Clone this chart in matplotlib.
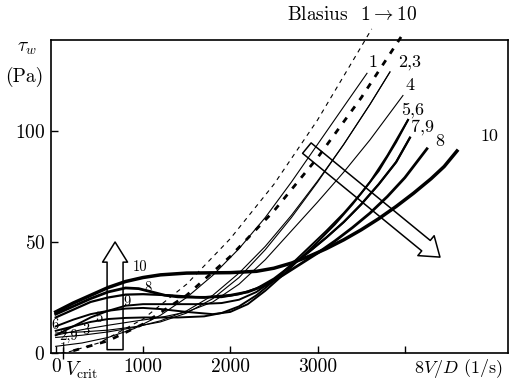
import matplotlib
matplotlib.use("Agg")
import matplotlib.pyplot as plt

plt.rcParams["font.family"] = "serif"
plt.rcParams["font.serif"] = ["cmr10", "DejaVu Serif"]
plt.rcParams["mathtext.fontset"] = "cm"
plt.rcParams["axes.formatter.use_mathtext"] = True

FONT_SIZE = 14

# Blasius reference lines (case 1 thin dashed, case 10 thick dashed)
blasius1_x = [150, 500, 1000, 1500, 2000, 2500, 3000, 3500, 3620]
blasius1_y = [0.5, 4.6, 15.3, 31, 51.5, 76, 105, 138, 146]
blasius10_x = [200, 600, 1000, 1500, 2000, 2500, 3000, 3500, 4000]
blasius10_y = [1, 5.5, 13, 26, 43.5, 64, 88, 115, 145]

# measured curves, one per test case
c1_x = [0, 300, 600, 900, 1200, 1500, 1800, 2100, 2400, 2700, 3000, 3300, 3566]
c1_y = [3, 4.5, 7, 11, 17, 25, 35, 47, 61, 77, 94, 111, 126]
c2_x = [0, 300, 600, 900, 1200, 1500, 1800, 2100, 2400, 2700, 3000, 3300, 3600, 3829]
c2_y = [7, 8, 9.5, 11.5, 14.5, 19, 26, 36, 48, 62, 77.5, 94, 112, 126.6]
c3_x = [0, 300, 600, 900, 1200, 1500, 1800, 2100, 2400, 2700, 3000, 3300, 3600, 3829]
c3_y = [9, 9.5, 10.3, 11.8, 14, 18, 24.5, 34, 46.5, 61, 77, 94, 112, 126.6]
c4_x = [0, 300, 600, 900, 1200, 1500, 1800, 2100, 2400, 2700, 3000, 3300, 3600, 3978]
c4_y = [8, 10.5, 12.5, 14.3, 16, 18.5, 23, 31, 42, 55, 68, 81.5, 96, 116]
c5_x = [0, 200, 400, 600, 800, 1000, 1400, 1700, 1900, 2100, 2300, 2500, 2700, 2900,
        3100, 3300, 3500, 3700, 3900, 4036]
c5_y = [10, 12, 14, 15.3, 15.8, 16, 16, 16.5, 18, 21, 26, 32.5, 40, 47.5,
        55, 63, 72, 82, 95, 105]
c6_x = [0, 200, 400, 600, 800, 1000, 1200, 1500, 1800, 2000, 2200, 2400, 2600, 2800,
        3000, 3200, 3400, 3600, 3800, 4036]
c6_y = [12, 15, 17.5, 19, 20, 20.3, 19.8, 18.5, 17.5, 18.5, 22, 28, 35, 42.5,
        50, 58, 67, 77, 89, 105]
c7_x = [0, 200, 400, 600, 800, 1000, 1300, 1600, 1900, 2100, 2300, 2500, 2700, 2900,
        3100, 3300, 3500, 3700, 3900, 4058]
c7_y = [16, 19.5, 23, 25, 26.3, 26.5, 26, 25.2, 25.2, 26.5, 29, 33.5, 39.5, 45.5,
        52, 59, 67, 76, 86, 97]
c8_x = [0, 200, 400, 600, 800, 950, 1100, 1250, 1400, 1700, 2000, 2200, 2400, 2600,
        2800, 3000, 3200, 3400, 3600, 3800, 4000, 4253]
c8_y = [17.5, 21, 24.5, 27.5, 29.3, 29, 27.5, 26, 25.3, 25, 26, 27.5, 30.5, 35,
        40, 45, 50.5, 56.5, 63, 70.5, 79, 92]
c9_x = [0, 200, 400, 600, 800, 1000, 1300, 1600, 1900, 2100, 2300, 2500, 2700, 2900,
        3100, 3300, 3500, 3700, 3900, 4058]
c9_y = [8, 12, 16, 19, 21.3, 22, 22, 22, 22.5, 24, 27.5, 33, 39.5, 45.5,
        52, 59, 67, 76, 86, 97]
c10_x = [0, 200, 400, 600, 800, 1000, 1200, 1500, 2000, 2300, 2500, 2700, 2900, 3100,
         3300, 3500, 3700, 3900, 4100, 4300, 4450, 4597]
c10_y = [18.5, 22.5, 26, 29.5, 32.2, 34, 35.2, 36, 36.2, 36.8, 38.2, 40.5, 43.5, 47,
         51, 55.5, 60.5, 66, 72, 78.5, 84, 91]

V_CRIT = 84
x_ticks = [0, 1000, 2000, 3000, 4000]
x_tick_labels = ["0", "1000", "2000", "3000", ""]
y_ticks = [0, 50, 100]

# curve labels: text, x, y
top_labels = [("1", 3635, 131), ("2,3", 4059, 131), ("4", 4059, 120.5),
              ("5,6", 4093, 109.5), ("7,9", 4207, 101.5), ("8", 4402, 95.5),
              ("10", 4975, 97.5)]
low_labels = [("10", 966, 38.7), ("8", 1057, 29.3), ("9", 817, 23),
              ("5", 496, 15.8), ("3", 347, 10.4), ("6", -8, 12.6),
              ("2,9", 150, 7.6), ("1", 85, 1.8)]

fig = plt.figure(figsize=(5.1, 3.81), dpi=100)
ax = fig.add_axes([0.1, 0.0735, 0.896, 0.8215])

ax.plot(blasius1_x, blasius1_y, color="k", lw=0.8, dashes=(4, 4), clip_on=False)
ax.plot(blasius10_x, blasius10_y, color="k", lw=2.0, dashes=(2.2, 2.8), clip_on=False)

for xs, ys in [(c1_x, c1_y), (c2_x, c2_y), (c3_x, c3_y), (c4_x, c4_y)]:
    ax.plot(xs, ys, color="k", lw=0.8)
for xs, ys in [(c5_x, c5_y), (c6_x, c6_y), (c9_x, c9_y)]:
    ax.plot(xs, ys, color="k", lw=1.4)
ax.plot(c7_x, c7_y, color="k", lw=1.6)
ax.plot(c8_x, c8_y, color="k", lw=2.0)
ax.plot(c10_x, c10_y, color="k", lw=2.5)

for txt, x, y in top_labels:
    ax.text(x, y, txt, fontsize=13, ha="center", va="center")
for txt, x, y in low_labels:
    ax.text(x, y, txt, fontsize=10.5, ha="center", va="center")

# hollow block arrows
ax.annotate("", xy=(680, 50), xytext=(680, 1.5),
            arrowprops=dict(arrowstyle="simple,tail_width=1.15,head_width=1.8,head_length=1.45",
                            fc="none", ec="k", lw=1.1, shrinkA=0, shrinkB=0, mutation_scale=10))
ax.annotate("", xy=(4402, 43.2), xytext=(2877, 92.3),
            arrowprops=dict(arrowstyle="simple,tail_width=0.97,head_width=1.85,head_length=1.3",
                            fc="none", ec="k", lw=1.1, shrinkA=0, shrinkB=0, mutation_scale=10))

ax.set_xlim(-54, 5181)
ax.set_ylim(0, 141)
ax.set_xticks(x_ticks)
ax.set_xticklabels(x_tick_labels)
ax.set_yticks(y_ticks)
ax.set_xticks([V_CRIT], minor=True)
ax.tick_params(axis="both", which="major", direction="in", length=5, width=1,
               labelsize=FONT_SIZE, pad=4)
ax.tick_params(axis="x", which="minor", direction="inout", length=8, width=1)
for sp in ax.spines.values():
    sp.set_linewidth(1.2)

xt = ax.get_xaxis_transform()
ax.text(V_CRIT + 20, -0.022, r"$V_{\mathrm{crit}}$", transform=xt, ha="left", va="top",
        fontsize=FONT_SIZE)
ax.text(0.99, -0.012, r"$8V/D$ (1/s)", transform=ax.transAxes, ha="right", va="top",
        fontsize=13)
ax.text(-0.052, 0.975, r"$\tau_w$", transform=ax.transAxes, ha="center", va="center",
        fontsize=FONT_SIZE)
ax.text(-0.059, 0.882, "(Pa)", transform=ax.transAxes, ha="center", va="center",
        fontsize=FONT_SIZE)
ax.text(0.659, 1.08, r"Blasius  $1 \rightarrow 10$", transform=ax.transAxes,
        ha="center", va="center", fontsize=FONT_SIZE)

fig.savefig("out.png", dpi=100)
